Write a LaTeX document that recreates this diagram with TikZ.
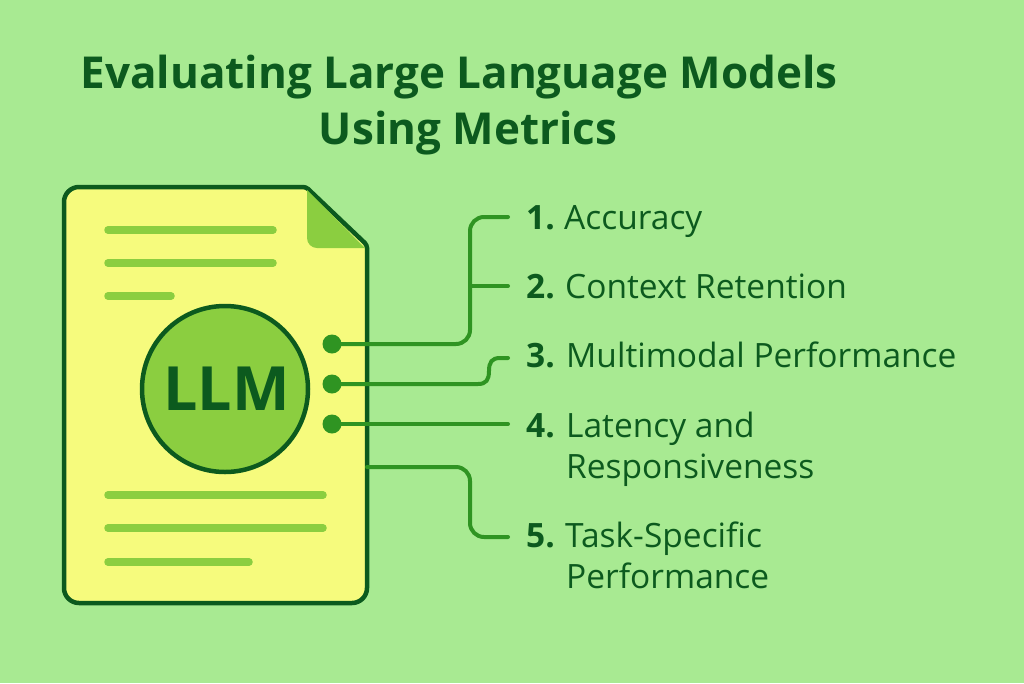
\documentclass[tikz,border=0pt]{standalone}
\usepackage{fontspec}
\setmainfont{Open Sans}
\definecolor{bgcol}{HTML}{A8EA92}
\definecolor{paper}{HTML}{F6FB7D}
\definecolor{leaf}{HTML}{8BCE40}
\definecolor{forest}{HTML}{0C5A1E}
\definecolor{wire}{HTML}{2F9422}
\tikzset{
    conn/.style={draw=wire, line width=4pt, rounded corners=14pt, line cap=round},
    textline/.style={draw=leaf, line width=7.5pt, line cap=round},
    dot/.style={circle, fill=wire, inner sep=0pt, minimum size=19pt},
    num/.style={anchor=base west, inner sep=0pt, text=forest, font=\fontsize{33.5}{33.5}\selectfont\bfseries},
    item/.style={anchor=base west, inner sep=0pt, text=forest, font=\fontsize{33.5}{33.5}\selectfont},
    headline/.style={anchor=base, inner sep=0pt, text=forest, font=\fontsize{44}{44}\selectfont\bfseries}
}
\begin{document}
\begin{tikzpicture}[x=1pt, y=-1pt]
\fill[bgcol](0,0) rectangle (1024,683);
\useasboundingbox (0,0) rectangle (1024,683);
\node[headline] (titleA) at (459,88) {Evaluating Large Language Models};
\node[headline] (titleB) at (468,144) {Using Metrics};
% document
\filldraw[fill=paper, draw=forest, line width=4.5pt, rounded corners=15pt]
    (64,400)--(64,187)[rounded corners=3pt]--(306,187)--(367,245)[rounded corners=15pt]--(367,603)--(64,603)--cycle;
\fill[leaf, rounded corners=10pt](307,190)--(307,248)[sharp corners]--(365,248)--cycle;
\foreach \y/\x in {230/273,263/273,296/171,495/323,528/323,562/249}
{
    \draw[textline](108,\y)--(\x,\y);
}
\node[circle, draw=forest, fill=leaf, line width=4.5pt, minimum size=166pt, inner sep=0pt, text=forest, font=\fontsize{61}{61}\selectfont\bfseries] (llm) at (225,389) {\hspace{3pt}LLM};
% dots
\foreach \n/\y in {A/344,B/384,C/424}
{
    \node[dot] (dot\n) at (332,\y) {};
}
\coordinate (bendA) at (470,286);
\coordinate (endA) at (508,217);
\coordinate (endB) at (508,286);
\coordinate (bendC) at (478,384);
\coordinate (midC) at (489,371);
\coordinate (bendCb) at (500,358);
\coordinate (endC) at (508,358);
\coordinate (endD) at (508,424);
\coordinate (startE) at (367,467);
\coordinate (bendE) at (470,500);
\coordinate (endE) at (508,537);
\draw[conn](dotA.center)-|(bendA)|-(endA);
\draw[conn](bendA)--(endB);
\draw[conn, sharp corners](dotB.center)--(bendC) .. controls (486,384) and (489,380) .. (midC) .. controls (489,362) and (492,358) .. (bendCb)--(endC);
\draw[conn](dotC.center)--(endD);
\draw[conn](startE)-|(bendE)|-(endE);
% list
\node[num] (numA) at (526,229) {1.};
\node[item] (itemA) at (564,229) {Accuracy};
\node[num] (numB) at (526,298) {2.};
\node[item] (itemB) at (565,298) {Context Retention};
\node[num] (numC) at (526,367) {3.};
\node[item] (itemC) at (566,367) {Multimodal Performance};
\node[num] (numD) at (526,437) {4.};
\node[item] (itemD) at (566,437) {Latency and};
\node[item] (itemDb) at (566,478) {Responsiveness};
\node[num] (numE) at (526,547) {5.};
\node[item] (itemE) at (565,547) {Task-Specific};
\node[item] (itemEb) at (566,588) {Performance};
\end{tikzpicture}
\end{document}
